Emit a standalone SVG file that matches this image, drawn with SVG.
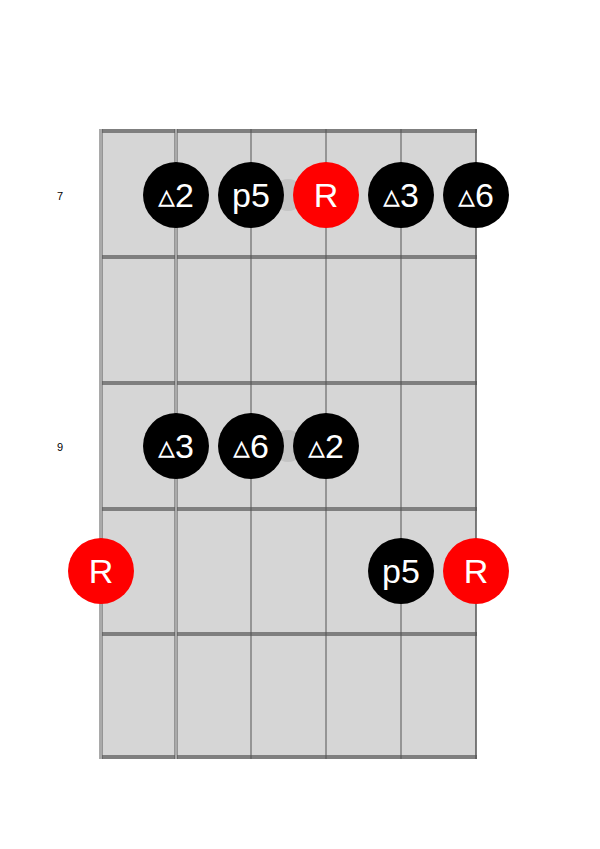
<svg xmlns="http://www.w3.org/2000/svg" width="600" height="849" viewBox="0 0 600 849">
<style>
.fret{stroke:#7f7f7f;stroke-width:4}
.str{stroke:#555;stroke-width:3}
.strw{stroke:#fff;stroke-width:1}
.n circle{fill:#000}
.r circle{fill:#f00}
.n text,.r text{fill:#fff;font-family:"Liberation Sans",Arial,sans-serif;font-size:34px;text-anchor:middle}
.lbl{font-family:"Liberation Sans",Arial,sans-serif;font-size:11px;fill:#000}
</style>
<rect x="101" y="131" width="375" height="626" fill="#d6d6d6"/>
<g id="frets">
<line class="fret" x1="101" y1="131" x2="477" y2="131"/>
<line class="fret" x1="101" y1="257" x2="477" y2="257"/>
<line class="fret" x1="101" y1="383" x2="477" y2="383"/>
<line class="fret" x1="101" y1="509" x2="477" y2="509"/>
<line class="fret" x1="101" y1="634" x2="477" y2="634"/>
<line class="fret" x1="101" y1="757" x2="477" y2="757"/>
</g>
<g id="strings">
<g class="str"><line x1="101" y1="129" x2="101" y2="759"/><line x1="176" y1="129" x2="176" y2="759"/><line x1="251" y1="129" x2="251" y2="759" style="stroke-width:1"/><line x1="326" y1="129" x2="326" y2="759" style="stroke-width:1"/><line x1="401" y1="129" x2="401" y2="759" style="stroke-width:1"/><line x1="476" y1="129" x2="476" y2="759" style="stroke-width:1.5"/></g>
<g class="strw"><line x1="101" y1="129" x2="101" y2="759"/><line x1="176" y1="129" x2="176" y2="759"/></g>
</g>
<circle cx="288" cy="195" r="16" fill="#c4c4c4"/>
<circle cx="288" cy="446" r="16" fill="#c4c4c4"/>
<text class="lbl" x="57" y="200">7</text>
<text class="lbl" x="57" y="451">9</text>
<g id="n1" class="n"><circle cx="176" cy="195" r="33"/><text x="176" y="207">▵2</text></g>
<g id="n2" class="n"><circle cx="251" cy="195" r="33"/><text x="251" y="207">p5</text></g>
<g id="n3" class="r"><circle cx="326" cy="195" r="33"/><text x="326" y="207">R</text></g>
<g id="n4" class="n"><circle cx="401" cy="195" r="33"/><text x="401" y="207">▵3</text></g>
<g id="n5" class="n"><circle cx="476" cy="195" r="33"/><text x="476" y="207">▵6</text></g>
<g id="n6" class="n"><circle cx="176" cy="446" r="33"/><text x="176" y="458">▵3</text></g>
<g id="n7" class="n"><circle cx="251" cy="446" r="33"/><text x="251" y="458">▵6</text></g>
<g id="n8" class="n"><circle cx="326" cy="446" r="33"/><text x="326" y="458">▵2</text></g>
<g id="n9" class="r"><circle cx="101" cy="571" r="33"/><text x="101" y="583">R</text></g>
<g id="n10" class="n"><circle cx="401" cy="571" r="33"/><text x="401" y="583">p5</text></g>
<g id="n11" class="r"><circle cx="476" cy="571" r="33"/><text x="476" y="583">R</text></g>
</svg>
